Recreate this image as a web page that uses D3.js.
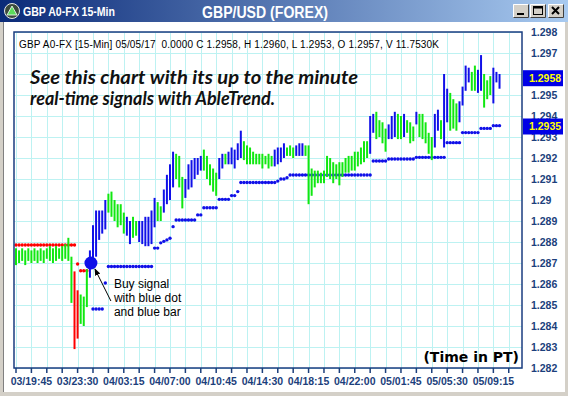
<!DOCTYPE html>
<html>
<head>
<meta charset="utf-8">
<script src="https://cdn.jsdelivr.net/npm/d3@7"></script>
<style>
body { margin: 0; background: #fff; }
svg { display: block; }
</style>
</head>
<body>
<svg id="chart"></svg>
<script>
// 15-min bars, first bar 03/18:30
const highs = [
    1.2877, 1.2876, 1.2877, 1.2876, 1.2877, 1.2876, 1.2877, 1.2876, 1.2877, 1.2876,
    1.2877, 1.2878, 1.2877, 1.2878, 1.2877, 1.2878, 1.2879, 1.2882, 1.2873, 1.2866,
    1.2857, 1.2855, 1.2854, 1.2867, 1.2876, 1.2888, 1.2895, 1.2895, 1.2895, 1.2900,
    1.2903, 1.2904, 1.2900, 1.2898, 1.2898, 1.2894, 1.2892, 1.2890, 1.2892, 1.2890,
    1.2890, 1.2890, 1.2892, 1.2892, 1.2895, 1.2901, 1.2899, 1.2897, 1.2905, 1.2912,
    1.2917, 1.2923, 1.2922, 1.2921, 1.2911, 1.2910, 1.2917, 1.2919, 1.2920, 1.2920,
    1.2921, 1.2924, 1.2921, 1.2917, 1.2915, 1.2913, 1.2920, 1.2922, 1.2922, 1.2923,
    1.2925, 1.2924, 1.2927, 1.2933, 1.2928, 1.2926, 1.2925, 1.2923, 1.2922, 1.2922,
    1.2922, 1.2921, 1.2922, 1.2921, 1.2924, 1.2925, 1.2925, 1.2927, 1.2925, 1.2926,
    1.2925, 1.2926, 1.2927, 1.2927, 1.2926, 1.2926, 1.2915, 1.2914, 1.2914, 1.2913,
    1.2914, 1.2921, 1.2920, 1.2918, 1.2917, 1.2918, 1.2918, 1.2920, 1.2921, 1.2921,
    1.2923, 1.2923, 1.2925, 1.2928, 1.2928, 1.2940, 1.2941, 1.2942, 1.2938, 1.2937,
    1.2934, 1.2936, 1.2940, 1.2942, 1.2941, 1.2940, 1.2941, 1.2938, 1.2937, 1.2935,
    1.2942, 1.2941, 1.2941, 1.2937, 1.2932, 1.2930, 1.2941, 1.2943, 1.2938, 1.2960,
    1.2953, 1.2951, 1.2948, 1.2946, 1.2947, 1.2954, 1.2964, 1.2963, 1.2961, 1.2964,
    1.2962, 1.2969, 1.2960, 1.2957, 1.2959, 1.2963, 1.2961, 1.2960
];
const lows = [
    1.2869, 1.2870, 1.2871, 1.2869, 1.2871, 1.2870, 1.2871, 1.2870, 1.2871, 1.2870,
    1.2872, 1.2871, 1.2870, 1.2871, 1.2872, 1.2871, 1.2872, 1.2871, 1.2851, 1.2829,
    1.2834, 1.2841, 1.2840, 1.2849, 1.2863, 1.2870, 1.2873, 1.2881, 1.2884, 1.2886,
    1.2894, 1.2892, 1.2890, 1.2887, 1.2888, 1.2884, 1.2883, 1.2879, 1.2882, 1.2883,
    1.2880, 1.2879, 1.2878, 1.2878, 1.2879, 1.2887, 1.2890, 1.2890, 1.2894, 1.2898,
    1.2900, 1.2906, 1.2910, 1.2906, 1.2896, 1.2901, 1.2905, 1.2906, 1.2910, 1.2912,
    1.2914, 1.2914, 1.2910, 1.2907, 1.2904, 1.2902, 1.2910, 1.2915, 1.2917, 1.2917,
    1.2917, 1.2915, 1.2919, 1.2920, 1.2919, 1.2917, 1.2917, 1.2917, 1.2917, 1.2917,
    1.2915, 1.2917, 1.2915, 1.2916, 1.2916, 1.2917, 1.2918, 1.2920, 1.2921, 1.2921,
    1.2920, 1.2921, 1.2921, 1.2921, 1.2921, 1.2898, 1.2902, 1.2906, 1.2908, 1.2908,
    1.2908, 1.2911, 1.2910, 1.2908, 1.2910, 1.2907, 1.2911, 1.2913, 1.2913, 1.2914,
    1.2914, 1.2916, 1.2917, 1.2918, 1.2920, 1.2922, 1.2932, 1.2929, 1.2930, 1.2927,
    1.2923, 1.2929, 1.2929, 1.2930, 1.2929, 1.2929, 1.2930, 1.2932, 1.2927, 1.2928,
    1.2936, 1.2930, 1.2929, 1.2927, 1.2922, 1.2919, 1.2925, 1.2933, 1.2929, 1.2925,
    1.2937, 1.2933, 1.2934, 1.2933, 1.2937, 1.2945, 1.2952, 1.2956, 1.2952, 1.2952,
    1.2951, 1.2952, 1.2944, 1.2948, 1.2950, 1.2946, 1.2956, 1.2953
];
// bar colour runs: g = green, b = blue (up trend), r = red (down trend)
const trendRuns = [
    ["g", 19], ["r", 2], ["g", 3], ["b", 6], ["g", 6], ["b", 2], ["g", 2], ["b", 6],
    ["g", 2], ["b", 4], ["g", 3], ["b", 6], ["g", 5], ["b", 2], ["g", 1], ["b", 5],
    ["g", 10], ["b", 4], ["g", 3], ["b", 3], ["g", 21], ["b", 2], ["g", 4], ["b", 3],
    ["g", 2], ["b", 1], ["g", 3], ["b", 1], ["g", 5], ["b", 2], ["g", 1], ["b", 2],
    ["g", 3], ["b", 4], ["g", 2], ["b", 2], ["g", 3], ["b", 3]
];
// trailing stop dots: [first bar, last bar, price]
const redStops = [[0, 19, 1.28786], [20, 20, 1.28695], [21, 23, 1.28663]];
const blueStops = [
    [25, 28, 1.28481], [29, 29, 1.28605], [30, 44, 1.28683], [45, 46, 1.28771],
    [47, 47, 1.28796], [48, 48, 1.28803], [49, 49, 1.28810], [50, 50, 1.28818],
    [51, 51, 1.28873], [52, 58, 1.28905], [59, 60, 1.28929], [61, 65, 1.28963],
    [66, 69, 1.29003], [70, 71, 1.29021], [72, 72, 1.29040], [73, 84, 1.29083],
    [85, 85, 1.29090], [86, 87, 1.29100], [88, 88, 1.29106], [89, 115, 1.29119],
    [116, 120, 1.29186], [121, 129, 1.29195], [130, 139, 1.29203], [140, 144, 1.29273],
    [145, 150, 1.29321], [151, 154, 1.29341], [155, 157, 1.29354]
];
const buySignal = { bar: 24, price: 1.2870 };
const xLabels = ["03/19:45", "03/23:30", "04/03:15", "04/07:00", "04/10:45", "04/14:30",
    "04/18:15", "04/22:00", "05/01:45", "05/05:30", "05/09:15"];
const firstLabelBar = 5, barsPerLabel = 15, barsPerTick = 5;
const yTicks = d3.range(1.282, 1.2985, 0.001);
const lastClose = 1.2958, lastStop = 1.2935;
const headerText = "GBP A0-FX [15-Min] 05/05/17  0.0000 C 1.2958, H 1.2960, L 1.2953, O 1.2957, V 11.7530K";

const W = 568, H = 396;
const plot = { left: 14, top: 32, right: 522, bottom: 368 };
const colors = { g: "#10e810", b: "#1010e8", r: "#ff0000" };
const axisColor = "#1c3f7c";

const trend = trendRuns.flatMap(([c, n]) => d3.range(n).map(() => c));
const bars = highs.map((h, i) => ({ i, high: h, low: lows[i], c: trend[i] }));
const expand = runs => runs.flatMap(([a, b, v]) => d3.range(a, b + 1).map(i => ({ i, v })));

const svg = d3.select("#chart").attr("width", W).attr("height", H);
const defs = svg.append("defs");

const x = d3.scaleLinear().domain([-0.65, 164.3]).range([plot.left, plot.right]);
const y = d3.scaleLinear().domain([1.282, 1.298]).range([plot.bottom, plot.top]);

// window frame
svg.append("rect").attr("width", W).attr("height", H).attr("fill", "#fff");
svg.append("rect").attr("x", 0).attr("y", 0).attr("width", 3).attr("height", H).attr("fill", "#d4d0c8");
svg.append("rect").attr("x", W - 3).attr("y", 0).attr("width", 3).attr("height", H).attr("fill", "#d4d0c8");
svg.append("rect").attr("x", 0).attr("y", H - 4).attr("width", W).attr("height", 4).attr("fill", "#d4d0c8");
svg.append("line").attr("x1", 3.5).attr("x2", 3.5).attr("y1", 22).attr("y2", H - 4).attr("stroke", "#808080");

// title bar
const grad = defs.append("linearGradient").attr("id", "tb");
grad.append("stop").attr("offset", "0%").attr("stop-color", "#0a2a78");
grad.append("stop").attr("offset", "100%").attr("stop-color", "#a8caf0");
svg.append("rect").attr("x", 0).attr("y", 0).attr("width", W).attr("height", 22).attr("fill", "url(#tb)");

const icon = svg.append("g").attr("transform", "translate(12,11)");
icon.append("circle").attr("r", 7.5).attr("fill", "#3c4a3c").attr("stroke", "#e8e8e8").attr("stroke-width", 1);
icon.append("path").attr("d", "M0,-5 L5,4 L-5,4 Z").attr("fill", "#5cdc5c").attr("stroke", "#fff").attr("stroke-width", 0.8);

svg.append("text").attr("x", 23).attr("y", 16)
    .attr("font-family", "Liberation Sans, Arial, sans-serif").attr("font-weight", "bold")
    .attr("font-size", 13).attr("fill", "#fff")
    .attr("textLength", 92).attr("lengthAdjust", "spacingAndGlyphs")
    .text("GBP A0-FX 15-Min");
svg.append("text").attr("x", 202).attr("y", 18)
    .attr("font-family", "Liberation Sans, Arial, sans-serif").attr("font-weight", "bold")
    .attr("font-size", 16).attr("fill", "#fff")
    .attr("textLength", 126).attr("lengthAdjust", "spacingAndGlyphs")
    .text("GBP/USD (FOREX)");

// caption buttons
const btns = [{ x: 513, k: "min" }, { x: 530, k: "max" }, { x: 548, k: "close" }];
btns.forEach(b => {
    const g = svg.append("g").attr("transform", `translate(${b.x},4)`);
    g.append("rect").attr("width", 16).attr("height", 14).attr("fill", "#d4d0c8");
    g.append("path").attr("d", "M0.5,13.5 V0.5 H15.5").attr("fill", "none").attr("stroke", "#fff");
    g.append("path").attr("d", "M0.5,13.5 H15.5 V0.5").attr("fill", "none").attr("stroke", "#404040");
    if (b.k === "min") g.append("rect").attr("x", 4).attr("y", 9).attr("width", 7).attr("height", 2).attr("fill", "#000");
    if (b.k === "max") {
        g.append("rect").attr("x", 3.5).attr("y", 2.5).attr("width", 9).attr("height", 8).attr("fill", "none").attr("stroke", "#000");
        g.append("rect").attr("x", 3.5).attr("y", 2.5).attr("width", 9).attr("height", 2).attr("fill", "#000");
    }
    if (b.k === "close") g.append("path").attr("d", "M4,3 L11,10 M11,3 L4,10").attr("stroke", "#000").attr("stroke-width", 2);
});

// grid
const tickBars = d3.range(0, 165, barsPerTick).filter(i => x(i) < plot.right);
const grid = svg.append("g").attr("stroke", "#bdf2f2").attr("stroke-width", 1);
grid.selectAll("line.h").data(yTicks).join("line").attr("class", "h")
    .attr("x1", plot.left).attr("x2", plot.right)
    .attr("y1", d => Math.round(y(d)) + 0.5).attr("y2", d => Math.round(y(d)) + 0.5);
grid.selectAll("line.v").data(tickBars).join("line").attr("class", "v")
    .attr("x1", d => Math.round(x(d)) + 0.5).attr("x2", d => Math.round(x(d)) + 0.5)
    .attr("y1", plot.top).attr("y2", plot.bottom);

// header text and notes
svg.append("text").attr("x", 19).attr("y", 48)
    .attr("font-family", "Liberation Sans, Arial, sans-serif").attr("font-size", 10).attr("fill", "#000")
    .attr("textLength", 420).attr("lengthAdjust", "spacing")
    .attr("xml:space", "preserve").style("white-space", "pre")
    .text(headerText);
const note = svg.append("g").attr("font-family", "Lato, Open Sans, sans-serif")
    .attr("font-weight", "bold").attr("font-style", "italic").attr("font-size", 19.5).attr("fill", "#111");
note.append("text").attr("x", 30).attr("y", 84)
    .attr("textLength", 328).attr("lengthAdjust", "spacingAndGlyphs")
    .text("See this chart with its up to the minute");
note.append("text").attr("x", 30).attr("y", 105)
    .attr("textLength", 245).attr("lengthAdjust", "spacingAndGlyphs")
    .text("real-time signals with AbleTrend.");

// stop dots
svg.append("g").selectAll("circle").data(expand(redStops)).join("circle")
    .attr("cx", d => x(d.i)).attr("cy", d => y(d.v)).attr("r", 1.7).attr("fill", colors.r);
svg.append("g").selectAll("circle").data(expand(blueStops)).join("circle")
    .attr("cx", d => x(d.i)).attr("cy", d => y(d.v)).attr("r", 1.7).attr("fill", colors.b);

// bars
svg.append("g").selectAll("line").data(bars).join("line")
    .attr("x1", d => x(d.i)).attr("x2", d => x(d.i))
    .attr("y1", d => y(d.high)).attr("y2", d => y(d.low))
    .attr("stroke", d => colors[d.c]).attr("stroke-width", 2);

// buy signal annotation
const bx = x(buySignal.bar), by = y(buySignal.price);
svg.append("circle").attr("cx", bx + 1).attr("cy", by).attr("r", 6.5).attr("fill", colors.b);
defs.append("marker").attr("id", "arr").attr("viewBox", "0 0 10 10").attr("refX", 9).attr("refY", 5)
    .attr("markerWidth", 7).attr("markerHeight", 7).attr("orient", "auto")
    .append("path").attr("d", "M0,1 L10,5 L0,9 Z").attr("fill", "#000");
svg.append("line").attr("x1", bx + 21).attr("y1", by + 38).attr("x2", bx + 5).attr("y2", by + 6)
    .attr("stroke", "#000").attr("stroke-width", 1).attr("marker-end", "url(#arr)");
const ann = svg.append("text").attr("font-family", "Liberation Sans, Arial, sans-serif")
    .attr("font-size", 12).attr("fill", "#000");
["Buy signal", "with blue dot", "and blue bar"].forEach((t, k) =>
    ann.append("tspan").attr("x", bx + 24).attr("y", by + 25 + k * 14).text(t));

svg.append("text").attr("x", plot.right - 3).attr("y", plot.bottom - 6).attr("text-anchor", "end")
    .attr("font-family", "DejaVu Sans, sans-serif").attr("font-weight", "bold")
    .attr("font-size", 14).attr("fill", "#000").text("(Time in PT)");

// plot frame
svg.append("rect").attr("x", plot.left).attr("y", plot.top)
    .attr("width", plot.right - plot.left).attr("height", plot.bottom - plot.top)
    .attr("fill", "none").attr("stroke", "#1a3d80").attr("stroke-width", 1.5);

// y axis labels (a label hidden under a price box is left out)
const fmt = d => (+d.toFixed(3)).toString();
const boxes = [lastClose, lastStop];
const shownTicks = yTicks.filter(t => boxes.every(v => Math.abs(y(t) - y(v)) > 6));
svg.append("g").selectAll("text").data(shownTicks).join("text")
    .attr("x", 531).attr("y", d => y(d)).attr("dy", "0.36em")
    .attr("font-family", "Liberation Sans, Arial, sans-serif").attr("font-weight", "bold")
    .attr("font-size", 10.5).attr("fill", axisColor).text(fmt);
boxes.forEach(v => {
    svg.append("rect").attr("x", 523).attr("y", y(v) - 8).attr("width", 40).attr("height", 16).attr("fill", "#0000e6");
    svg.append("text").attr("x", 529).attr("y", y(v)).attr("dy", "0.36em")
        .attr("font-family", "Liberation Sans, Arial, sans-serif").attr("font-weight", "bold")
        .attr("font-size", 10.5).attr("fill", "#ffff00").text(v.toFixed(4));
});

// x axis ticks and labels
svg.append("g").selectAll("line").data(tickBars).join("line")
    .attr("x1", d => x(d)).attr("x2", d => x(d)).attr("y1", plot.bottom).attr("y2", plot.bottom + 5)
    .attr("stroke", axisColor).attr("stroke-width", 1.5);
svg.append("g").selectAll("text").data(xLabels).join("text")
    .attr("x", (d, k) => x(firstLabelBar + k * barsPerLabel)).attr("y", 385)
    .attr("text-anchor", "middle")
    .attr("font-family", "Liberation Sans, Arial, sans-serif").attr("font-weight", "bold")
    .attr("font-size", 10.5).attr("fill", axisColor).text(d => d);
</script>
</body>
</html>
